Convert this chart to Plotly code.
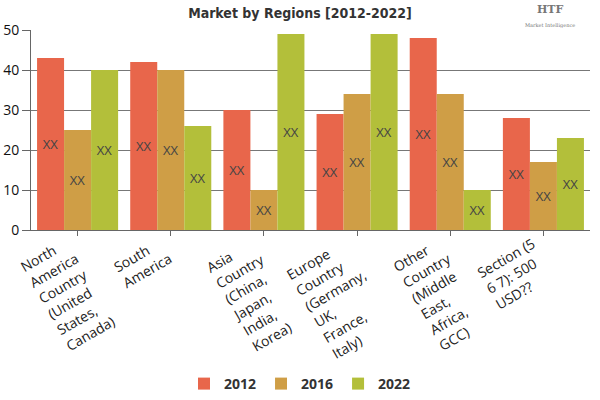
import plotly.graph_objects as go

# Data
regions = [
    "North America Country (United States, Canada)",
    "South America",
    "Asia Country (China, Japan, India, Korea)",
    "Europe Country (Germany, UK, France, Italy)",
    "Other Country (Middle East, Africa, GCC)",
    "Section (5 6 7): 500 USD??",
]
region_labels = [
    ["North", "America", "Country", "(United", "States,", "Canada)"],
    ["South", "America"],
    ["Asia", "Country", "(China,", "Japan,", "India,", "Korea)"],
    ["Europe", "Country", "(Germany,", "UK,", "France,", "Italy)"],
    ["Other", "Country", "(Middle", "East,", "Africa,", "GCC)"],
    ["Section (5", "6 7): 500", "USD??"],
]
years = ["2012", "2016", "2022"]
vals_2012 = [43, 42, 30, 29, 48, 28]
vals_2016 = [25, 40, 10, 34, 34, 17]
vals_2022 = [40, 26, 49, 49, 10, 23]
bar_text = "XX"

colors = ["#E8664B", "#CF9E46", "#B3BF3A"]

W, H = 600, 400
margin = dict(l = 31, r = 10, t = 30, b = 170)
cat_px = (W - margin["l"] - margin["r"]) / len(regions)

fig = go.Figure()
for yr, vals, col in zip(years, [vals_2012, vals_2016, vals_2022], colors):
    fig.add_trace(go.Bar(
        x = regions,
        y = vals,
        name = yr,
        marker = dict(color = col, line = dict(width = 0)),
        text = [bar_text] * len(vals),
        textposition = "inside",
        insidetextanchor = "middle",
        textangle = 0,
        textfont = dict(family = "Open Sans", size = 13, color = "#444"),
    ))

# rotated, left aligned category labels (plotly tick labels are centre aligned)
label_size = 14
line_h = 1.3 * label_size
for i, lines in enumerate(region_labels):
    h = len(lines) * line_h
    fig.add_annotation(
        text = "<br>".join(lines),
        x = i + (0.5 * h - 13) / cat_px, xref = "x",
        y = 0, yref = "paper",
        xanchor = "right", yanchor = "top",
        yshift = -2,
        textangle = -30,
        align = "left",
        showarrow = False,
        borderpad = 0,
        font = dict(family = "Open Sans", size = label_size, color = "#222"),
    )

fig.update_layout(
    width = W,
    height = H,
    barmode = "group",
    bargap = 0.13,
    bargroupgap = 0,
    plot_bgcolor = "white",
    paper_bgcolor = "white",
    margin = margin,
    title = dict(
        text = "<b>Market by Regions [2012-2022]</b>",
        x = 0.5,
        xanchor = "center",
        y = 0.968,
        yanchor = "middle",
        font = dict(family = "DejaVu Sans Condensed", size = 14, color = "#333"),
    ),
    font = dict(family = "Open Sans", color = "#222"),
    xaxis = dict(
        range = [-0.5, len(regions) - 0.5],
        showticklabels = False,
        automargin = False,
        showline = True,
        linecolor = "#666",
        ticks = "outside",
        ticklen = 5,
        tickcolor = "#666",
        showgrid = False,
    ),
    yaxis = dict(
        range = [0, 50],
        dtick = 10,
        automargin = False,
        tickfont = dict(size = 14, color = "#111"),
        ticks = "outside",
        ticklen = 8,
        tickcolor = "#666",
        showgrid = True,
        gridcolor = "#777",
        gridwidth = 1,
        showline = True,
        linecolor = "#666",
        zeroline = False,
    ),
    legend = dict(
        orientation = "h",
        x = 0.5,
        xanchor = "center",
        xref = "container",
        y = 0.04,
        yanchor = "middle",
        yref = "container",
        font = dict(size = 14, color = "#333", family = "Open Sans", weight = "bold"),
    ),
    showlegend = True,
)

# logo
fig.add_annotation(
    text = "<b>HTF</b><br><span style='font-size:5px'>Market Intelligence</span>",
    x = 0.928, y = 1.0,
    xref = "paper", yref = "paper",
    xanchor = "center", yanchor = "bottom",
    showarrow = False,
    borderpad = 0,
    font = dict(family = "DejaVu Serif", size = 11, color = "#777"),
)

# the page body has a default 8px margin; drop it so the figure sits at 0,0
fig.write_html(
    "out.html",
    config = {"displayModeBar": False},
    post_script = "document.body.style.margin = '0';",
)
